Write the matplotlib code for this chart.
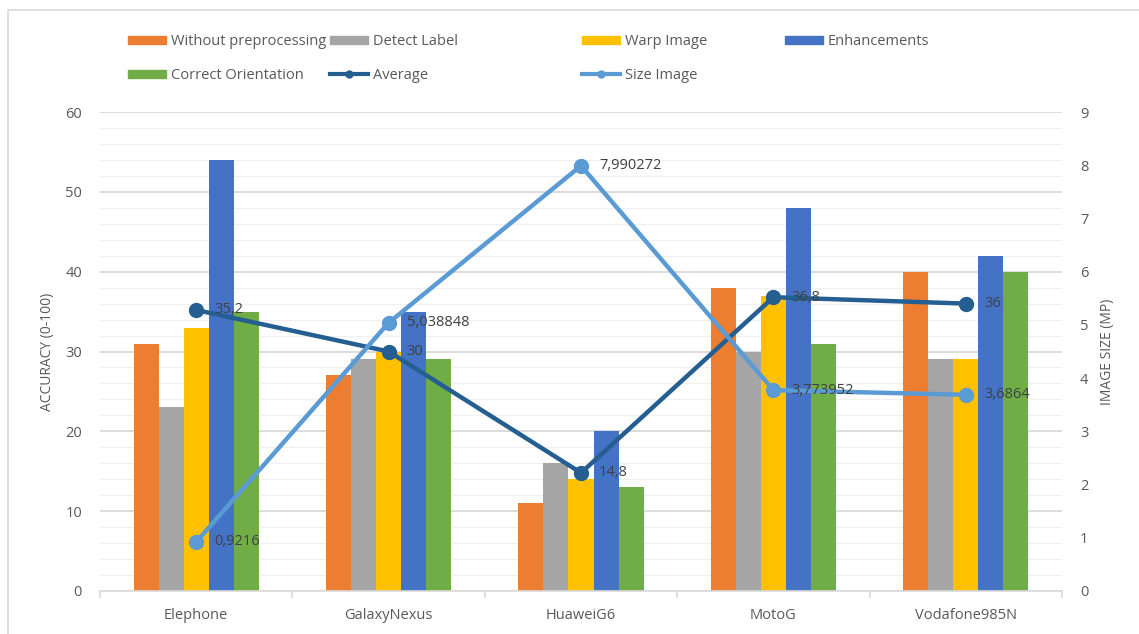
import matplotlib
matplotlib.use("Agg")
import matplotlib.pyplot as plt
from matplotlib.patches import Patch, Rectangle
from matplotlib.lines import Line2D
import numpy as np

plt.rcParams["font.family"] = ["Open Sans", "DejaVu Sans"]

# ── Data ──────────────────────────────────────────────────────────────────────
phones = ["Elephone", "GalaxyNexus", "HuaweiG6", "MotoG", "Vodafone985N"]
without_prep = [31, 27, 11, 38, 40]
detect_label = [23, 29, 16, 30, 29]
warp_image = [33, 30, 14, 37, 29]
enhancements = [54, 35, 20, 48, 42]
correct_orient = [35, 29, 13, 31, 40]
average = [35.2, 30, 14.8, 36.8, 36]
size_image = [0.9216, 5.038848, 7.990272, 3.773952, 3.6864]

bar_series = [
    ("Without preprocessing", without_prep, "#ED7D31"),
    ("Detect Label", detect_label, "#A5A5A5"),
    ("Warp Image", warp_image, "#FFC000"),
    ("Enhancements", enhancements, "#4472C4"),
    ("Correct Orientation", correct_orient, "#70AD47"),
]
AVG_COL = "#255E91"
SIZE_COL = "#5B9BD5"
TXT = "#595959"
LBL = "#404040"


def fmt(v):
    return ("%.6f" % v).rstrip("0").rstrip(".").replace(".", ",")


W, H = 1139, 634
fig = plt.figure(figsize=(W / 100, H / 100), dpi=100)
ax = fig.add_axes([100 / W, 1 - 591 / H, 962 / W, 479 / H])

# chart border (only left and top edges fall inside the picture)
fig.patches.append(Rectangle((8 / W, -0.05), 1.2, 1.05 - 10 / H, transform=fig.transFigure,
                             fill=False, edgecolor="#D9D9D9", linewidth=1.2))

x = np.arange(len(phones))
bw = 0.13
for k, (name, vals, col) in enumerate(bar_series):
    ax.bar(x + (k - 2) * bw, vals, bw, color=col, zorder=2)

ax.set_xlim(-0.5, len(phones) - 0.5)
ax.set_ylim(0, 60)
ax.set_yticks(np.arange(0, 61, 10))
ax.set_yticks(np.arange(0, 61, 2), minor=True)
ax.grid(axis="y", which="major", color="#D9D9D9", linewidth=1.3, zorder=0)
ax.grid(axis="y", which="minor", color="#F0F0F0", linewidth=1.0, zorder=0)
ax.set_axisbelow(True)

ax.set_xticks(x)
ax.set_xticklabels(phones)
ax.set_xticks(np.arange(-0.5, len(phones), 1), minor=True)
ax.tick_params(axis="x", which="major", length=0, pad=12, labelsize=10.5, labelcolor=TXT)
ax.tick_params(axis="x", which="minor", length=5, color="#D9D9D9", width=1.2)
ax.tick_params(axis="y", which="both", length=0, pad=13, labelsize=10.5, labelcolor=TXT)
for s in ["top", "left", "right"]:
    ax.spines[s].set_visible(False)
ax.spines["bottom"].set_color("#D9D9D9")
ax.spines["bottom"].set_linewidth(1.2)
ax.set_ylabel("ACCURACY (0-100)", color=TXT, fontsize=10, labelpad=7)

# average line (primary axis)
ax.plot(x, average, color=AVG_COL, lw=3.2, marker="o", markersize=10, zorder=4)
for xi, v in zip(x, average):
    ax.annotate(fmt(v), (xi, v), xytext=(13, 0), textcoords="offset points",
                va="center", ha="left", fontsize=10.5, color=LBL, zorder=6)

# size image line (secondary axis)
ax2 = ax.twinx()
ax2.set_ylim(0, 9)
ax2.set_yticks(np.arange(0, 10, 1))
ax2.plot(x, size_image, color=SIZE_COL, lw=3.2, marker="o", markersize=10, zorder=4)
for xi, v in zip(x, size_image):
    ax2.annotate(fmt(v), (xi, v), xytext=(13, 0), textcoords="offset points",
                 va="center", ha="left", fontsize=10.5, color=LBL, zorder=6)
ax2.tick_params(axis="y", length=0, pad=13, labelsize=10.5, labelcolor=TXT)
for s in ax2.spines.values():
    s.set_visible(False)
ax2.set_ylabel("IMAGE SIZE (MP)", color=TXT, fontsize=10, labelpad=8)

# legend, laid out column by column like the original
bar_h = {name: Patch(color=col) for name, _, col in bar_series}
avg_h = Line2D([], [], color=AVG_COL, lw=3, marker="o", markersize=5)
size_h = Line2D([], [], color=SIZE_COL, lw=3, marker="o", markersize=5)
columns = [
    (128, [bar_h["Without preprocessing"], bar_h["Correct Orientation"]],
     ["Without preprocessing", "Correct Orientation"]),
    (330, [bar_h["Detect Label"], avg_h], ["Detect Label", "Average"]),
    (582, [bar_h["Warp Image"], size_h], ["Warp Image", "Size Image"]),
    (785, [bar_h["Enhancements"]], ["Enhancements"]),
]
for px, hs, ls in columns:
    fig.legend(hs, ls, loc="upper left", bbox_to_anchor=(px / W, 1 - 34 / H),
               frameon=False, fontsize=10.5, labelcolor=TXT, handlelength=2.6,
               handleheight=0.5, handletextpad=0.35, labelspacing=1.3,
               borderpad=0, borderaxespad=0)

fig.savefig("out.png", dpi=100, facecolor="white")
